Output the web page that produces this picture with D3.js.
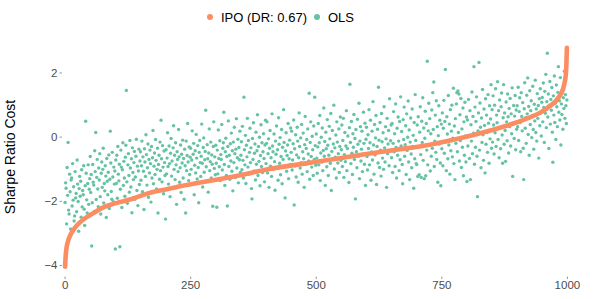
<!DOCTYPE html>
<html>
  <head>
    <meta charset="utf-8" />
    <script src="https://d3js.org/d3.v7.min.js"></script>
    <style>
      body { margin: 0; background: #fff; }
      text { font-family: "Liberation Sans", Arial, sans-serif; }
    </style>
  </head>
  <body>
    <svg id="chart"></svg>
    <script>
      // Chart size
      var width = 598;
      var height = 299;

      // Sorted IPO cost: as [index, value]
      var ipoIndex = [1, 2, 4, 8, 12, 20, 30, 45, 60, 75, 90, 110, 130, 160, 190, 230, 270, 310, 350, 400,
        460, 528, 594, 660, 727, 774, 840, 880, 920, 946, 966, 983, 993, 998, 1000];
      var ipoValue = [-4.05, -3.75, -3.45, -3.2, -3.05, -2.85, -2.68, -2.5, -2.36, -2.22, -2.13, -2.04, -1.96,
        -1.8, -1.68, -1.55, -1.43, -1.32, -1.2, -1.03, -0.88, -0.72, -0.56, -0.41, -0.25, -0.1, 0.16, 0.34,
        0.56, 0.74, 0.95, 1.21, 1.52, 1.95, 2.77];

      // OLS cost, one value per index 1..1000 (estimated from the scatter)
      var olsValue = [
        -2.05,-1.44,-1.61,-2.72,-0.96,-1.83,-0.18,-2.29,-2.41,-1.17,-1.72,-2.88,-1.35,-1.29,-2.16,-0.84,-1.98,-1.56,-2.63,-2.47,
        -1.09,-1.91,-1.77,-2.34,-0.73,-1.48,-2.02,-2.95,-1.62,-1.24,-1.86,-1.39,-2.51,-1.03,-2.19,-1.68,-1.81,-0.91,-2.26,-2.77,
        -1.53,0.48,-1.14,-1.97,-2.38,-1.46,-0.88,-2.11,-1.64,-1.31,
        -0.62,-1.74,-1.18,-3.41,-2.06,-0.87,-1.42,-1.51,-2.33,-0.44,-1.09,0.13,-1.96,-1.27,-0.71,-1.63,-2.18,-0.98,-1.35,-0.53,
        -1.87,-2.41,-1.14,-0.79,-1.58,-1.02,-0.36,-2.07,-1.46,-1.69,-0.91,-1.23,-2.52,-0.68,-1.39,-1.81,-1.11,-0.57,-2.24,-1.33,
        0.17,-0.82,-1.71,-1.95,-0.49,-1.26,-2.03,-0.95,-1.48,-1.07,
        -3.50,-0.73,-1.46,-0.58,-1.92,-0.31,-1.17,-1.38,-0.86,-3.43,-1.64,-0.42,-0.95,-2.21,-1.03,-0.19,-1.52,-0.77,-1.29,-1.86,
        -0.64,-0.27,1.44,-1.41,-2.08,-0.88,-0.53,-1.21,-1.73,-0.12,-0.98,-1.57,-0.69,-2.37,-0.35,-1.12,-1.34,-0.81,-0.46,-1.95,
        -1.26,-0.61,-0.08,-1.68,-0.92,-2.15,-1.07,-0.39,-1.49,-0.76,
        -0.47,-1.36,-0.91,-0.14,-1.72,-0.63,-1.08,-2.27,-0.38,-0.79,-1.24,0.06,-0.56,-1.51,-0.97,-0.23,-1.89,-0.71,-1.13,-0.42,
        -0.84,-2.04,-0.31,-1.29,-0.66,0.19,-1.47,-0.92,-0.51,-1.18,-0.09,-0.74,-1.63,-1.02,-0.36,-2.38,-0.87,-0.58,-1.33,-0.17,
        -1.06,0.51,-0.69,-1.41,-0.28,-0.95,-1.78,-0.45,-0.81,-1.21,
        -2.57,-0.41,-1.16,-0.67,0.12,-0.93,-1.48,-0.29,-0.84,-1.87,-0.52,-0.06,-1.23,-0.76,-1.61,-0.35,0.34,-1.02,-0.58,-1.34,
        -0.19,-0.88,-2.11,-0.47,-0.71,-1.09,0.22,-0.63,-1.42,-0.97,-0.26,-1.74,-0.55,-0.82,-0.11,-1.29,-0.68,-1.95,-0.39,-0.91,
        -2.38,-0.14,-1.06,-0.59,0.41,-0.79,-1.37,-0.32,-1.18,-0.64,
        -0.36,-1.02,-0.73,0.18,-1.47,-0.55,-0.21,-1.81,-0.89,-0.44,-1.13,0.07,-0.67,-1.32,-0.28,-0.96,-2.06,-0.49,-0.12,-0.81,
        -1.24,-0.61,0.39,-0.83,-1.57,-0.34,-0.04,-1.11,-0.72,-0.46,0.82,-0.94,-1.38,-0.25,-0.69,-1.73,-0.51,0.24,-1.06,-0.78,
        -0.17,-1.29,-0.57,-0.86,-2.17,-0.31,0.46,-0.99,-0.63,-1.19,
        -0.27,-0.83,-2.20,-0.42,-1.16,0.21,-0.68,-0.94,-0.13,-1.37,-0.56,-0.71,0.38,-1.04,-0.36,-0.19,0.76,-0.87,-1.52,-0.47,
        -0.05,-1.21,-0.62,-2.16,-0.31,0.49,-0.93,-0.58,-1.33,-0.22,-0.76,0.11,-1.08,-0.44,-1.69,-0.17,-0.81,0.29,-0.53,-1.27,
        -0.39,0.56,-0.98,-0.66,-0.08,-1.44,-0.34,-0.72,0.17,-1.12,
        -0.58,-0.16,-1.03,0.32,-0.74,-1.29,1.23,-0.41,-0.88,0.04,-1.46,-0.27,-0.63,0.57,-0.95,-0.12,-1.17,-0.49,0.26,-0.81,
        -0.35,-1.62,-1.94,-0.06,-0.71,0.43,-1.08,-0.52,-0.23,-1.35,0.14,-0.86,-0.44,0.68,-1.21,-0.31,-0.77,-0.02,-1.53,-0.59,
        0.37,-0.93,-0.19,-1.12,-0.47,0.09,-0.68,-1.41,-0.26,0.51,
        -0.84,-0.21,0.46,-1.13,-0.53,-0.07,-1.58,-0.36,0.19,-0.92,-0.66,-1.24,0.71,-0.29,-0.47,-1.01,0.08,-0.78,-1.67,-0.14,
        -0.55,0.33,-0.97,-0.41,-1.36,0.59,-0.24,-0.83,-0.03,-1.19,-0.62,0.22,-1.47,-0.33,-0.71,0.84,-0.18,-0.94,-1.91,-0.45,
        0.12,-1.08,-0.59,-0.26,0.41,-1.31,-0.69,-0.11,-0.87,0.27,
        -0.49,0.17,-1.04,-0.73,-0.22,0.52,-2.13,-0.38,-0.91,0.06,-1.26,-0.57,0.29,-0.14,-1.42,-0.66,0.74,-0.31,-0.98,-0.04,
        -0.81,0.38,-1.17,-0.47,0.11,-0.69,-1.58,-0.25,0.63,-0.86,-0.37,-0.09,-1.09,0.24,-0.54,-0.76,1.35,-1.33,-0.18,0.46,
        -0.62,-0.95,0.01,-0.41,-1.21,0.33,-0.71,1.23,-0.28,-0.89,
        0.08,-0.67,-1.14,-0.32,0.41,-0.88,-0.19,0.66,-1.37,-0.51,-0.02,-0.79,0.27,-1.06,-0.43,0.89,-0.61,-0.15,-1.52,0.14,
        -0.38,-0.94,0.53,-0.27,-1.21,-0.58,0.32,-0.07,-0.83,0.72,-1.68,-0.46,0.19,-0.71,-0.23,0.98,-1.01,-0.35,-0.64,0.05,
        -1.29,0.46,-0.17,-0.82,-0.53,0.24,-1.12,-0.31,0.61,-0.74,
        -0.41,0.36,-0.93,-0.12,0.57,-1.27,-0.56,0.13,-0.78,-0.29,0.81,-1.06,-0.37,0.02,-0.63,-1.43,0.28,1.63,-0.18,-0.84,
        0.47,-0.52,-1.18,0.09,-0.33,0.69,-0.71,-0.06,-1.94,0.22,-0.47,-0.97,0.54,-0.24,-0.61,1.04,-1.31,-0.14,0.31,-0.76,
        -0.39,0.17,-1.09,-0.55,0.76,-0.21,-0.86,0.42,-1.52,-0.08,
        0.29,-0.62,-1.04,0.06,-0.37,0.84,-0.88,-0.19,0.51,-1.36,-0.48,0.17,-0.73,1.09,-0.26,-1.17,0.38,-0.57,-0.04,0.66,
        -1.49,-0.31,0.23,-0.82,1.54,-0.11,-0.96,0.44,-0.42,-1.23,0.72,-0.16,-0.67,0.12,-1.02,0.93,-0.35,-0.79,0.31,-0.07,
        -1.58,0.57,-0.53,-0.23,0.19,-0.91,1.18,-0.44,-0.13,0.36,
        -0.66,0.41,-1.12,-0.21,0.78,-0.47,0.09,-0.93,1.02,-0.34,-1.29,0.26,-0.58,0.61,-0.14,-1.06,0.47,-0.72,1.24,-0.29,
        0.16,-0.87,-1.47,0.53,-0.09,0.92,-0.61,-0.25,0.34,-1.18,0.71,-0.43,-0.02,1.11,-0.79,0.21,-1.34,-0.17,0.58,-0.54,
        -0.97,0.86,-0.31,0.04,-1.61,0.44,-0.69,1.31,-0.12,-0.84,
        -0.87,0.36,-1.24,0.62,-0.31,-1.19,0.14,0.93,-0.56,-1.27,0.48,-0.18,1.21,-0.74,0.27,-1.31,-0.05,0.79,-1.22,0.41,
        -0.42,2.35,-0.88,0.18,1.04,-0.27,0.56,-1.07,0.09,-0.61,0.83,-0.36,1.37,0.22,1.70,-0.93,-0.14,0.67,-0.49,1.12,
        -0.71,0.31,-1.42,0.03,0.96,-0.23,0.51,-0.82,-1.53,0.39,
        -0.38,0.74,-0.91,0.26,1.13,-0.52,0.47,2.09,-0.17,-1.06,0.62,0.08,-0.69,1.28,-0.26,0.39,-1.17,0.84,-0.44,0.17,
        0.98,-0.63,-0.05,1.51,-0.84,0.33,-1.34,0.56,-0.21,1.02,1.37,-0.47,1.42,0.13,1.33,-0.76,0.68,-0.12,1.19,-0.96,
        0.24,-0.33,0.89,-1.22,0.46,-0.58,1.07,0.02,-0.79,0.61,
        -1.40,0.52,-0.29,1.16,0.04,-0.68,0.81,-1.34,0.37,-0.14,1.39,-0.53,0.63,0.11,2.18,-0.86,0.92,-0.33,0.47,1.24,
        -0.61,-1.87,0.18,0.74,2.31,-0.42,1.05,0.29,-0.97,0.58,-0.18,1.47,0.06,-0.74,0.86,0.35,-1.13,1.18,-0.24,0.67,
        0.13,-0.49,1.31,0.42,-0.83,0.96,-0.07,0.55,1.62,-0.36,
        0.84,-0.17,1.27,0.36,-0.54,0.98,0.12,1.49,-0.31,0.67,0.43,1.71,-0.09,0.81,-0.66,1.14,0.27,-0.38,0.93,1.36,
        0.05,-0.83,0.59,1.62,-0.24,0.74,0.19,-0.77,1.08,0.46,-0.13,1.33,0.62,-0.51,0.88,0.31,1.19,-0.29,0.71,0.09,
        1.52,-1.24,0.39,0.97,-0.06,0.64,1.28,-0.41,0.83,0.23,
        0.96,0.31,1.54,-0.12,0.78,1.21,0.44,-0.47,1.37,0.63,0.18,1.06,-0.36,-1.34,0.87,1.68,0.26,0.59,-0.21,1.29,
        0.71,1.83,0.07,0.94,-0.58,1.43,0.38,0.81,1.12,-0.03,0.66,1.57,0.22,-0.39,1.01,0.49,1.76,0.13,0.86,-0.14,
        1.34,0.57,0.97,-0.67,1.18,0.34,1.49,0.74,0.02,1.07,
        1.22,0.46,1.67,0.91,-0.18,1.41,0.73,1.94,0.28,1.09,2.60,0.61,1.33,-0.37,0.98,1.72,0.39,1.16,0.82,1.53,
        0.14,-0.80,1.27,0.67,1.89,0.44,1.04,-0.09,1.61,0.93,0.31,1.38,2.18,0.76,1.12,0.52,1.84,-0.26,1.02,0.69,
        1.47,0.23,1.21,0.88,2.04,0.57,1.31,0.96,0.41,1.14
      ];

      // Axis ticks and legend labels
      var xTicks = [0, 250, 500, 750, 1000];
      var yTicks = [-4, -2, 0, 2];
      var seriesNames = ["IPO (DR: 0.67)", "OLS"];
      var seriesColors = ["#fc8d62", "#66c2a5"];

      var margin = { top: 36.5, right: 6, bottom: 21.5, left: 40 };

      var svg = d3.select("#chart").attr("width", width).attr("height", height);

      // Scales (ggplot style 5% expansion)
      var x = d3.scaleLinear()
        .domain([1 - 0.05 * 999, 1000 + 0.05 * 999])
        .range([margin.left, width - margin.right]);
      var y = d3.scaleLinear()
        .domain([-4.39, 3.12])
        .range([height - margin.bottom, margin.top]);

      var fmt = function (d) { return d < 0 ? "\u2212" + Math.abs(d) : String(d); };

      // Y axis
      var yAxis = svg.append("g")
        .attr("transform", "translate(" + (margin.left + 22) + ",0)")
        .call(d3.axisLeft(y).tickValues(yTicks).tickSize(2.5).tickPadding(2).tickFormat(fmt));
      yAxis.select(".domain").remove();
      yAxis.selectAll("line").attr("stroke", "#333").attr("stroke-width", 0.5);
      yAxis.selectAll("text").attr("fill", "#4d4d4d").style("font-size", "11.5px")
        .style("font-family", "'Liberation Sans', Arial, sans-serif");

      // X axis
      var xAxis = svg.append("g")
        .attr("transform", "translate(0," + (height - margin.bottom - 1) + ")")
        .call(d3.axisBottom(x).tickValues(xTicks).tickSize(2.5).tickPadding(2).tickFormat(d3.format("d")));
      xAxis.select(".domain").remove();
      xAxis.selectAll("line").attr("stroke", "#333").attr("stroke-width", 0.5);
      xAxis.selectAll("text").attr("fill", "#4d4d4d").style("font-size", "11.5px")
        .style("font-family", "'Liberation Sans', Arial, sans-serif");

      // Y axis title
      svg.append("text")
        .attr("transform", "translate(15," + (margin.top + height - margin.bottom) / 2 + ") rotate(-90)")
        .attr("text-anchor", "middle")
        .style("font-size", "14px")
        .attr("fill", "#000")
        .text("Sharpe Ratio Cost");

      // OLS scatter
      svg.append("g")
        .selectAll("circle")
        .data(olsValue)
        .join("circle")
        .attr("cx", (d, i) => x(i + 1))
        .attr("cy", (d) => y(d))
        .attr("r", 1.7)
        .attr("fill", seriesColors[1]);

      // IPO sorted curve
      var ipoData = ipoIndex.map((d, i) => [d, ipoValue[i]]);
      svg.append("path")
        .datum(ipoData)
        .attr("fill", "none")
        .attr("stroke", seriesColors[0])
        .attr("stroke-width", 4.6)
        .attr("stroke-linecap", "round")
        .attr("stroke-linejoin", "round")
        .attr("d", d3.line().x((d) => x(d[0])).y((d) => y(d[1])).curve(d3.curveMonotoneX));

      // Legend
      var legend = svg.append("g").attr("transform", "translate(0,17)");
      var legendX = [210, 317];
      seriesNames.forEach(function (name, i) {
        legend.append("circle").attr("cx", legendX[i]).attr("cy", 0).attr("r", 3).attr("fill", seriesColors[i]);
        legend.append("text")
          .attr("x", legendX[i] + 11)
          .attr("y", 4.6)
          .style("font-size", "13px")
          .attr("fill", "#000")
          .text(name);
      });
    </script>
  </body>
</html>
